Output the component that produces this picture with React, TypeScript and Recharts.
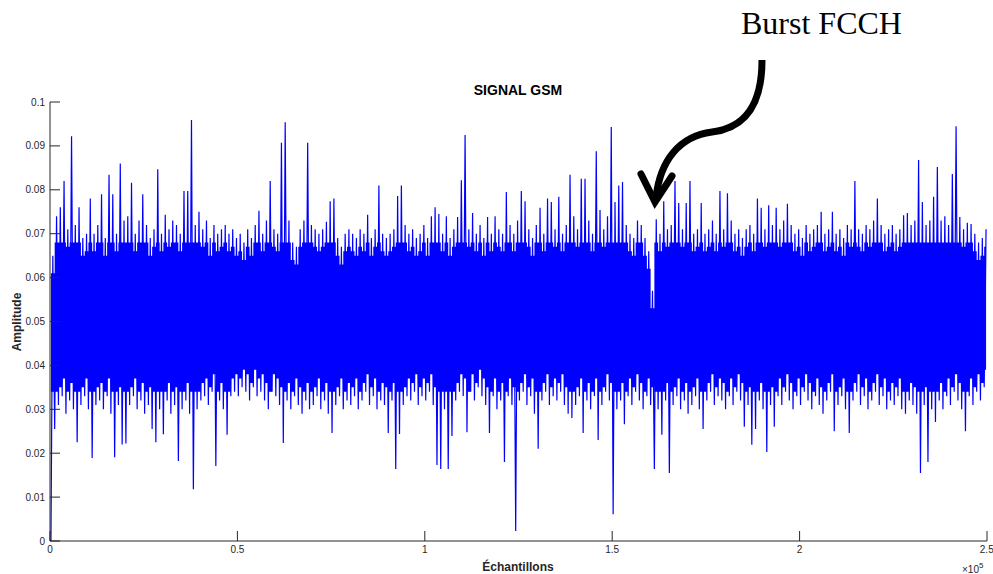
import { ComposedChart, Line, Area, XAxis, YAxis } from "recharts";

// one high / low pair of amplitude per block of 1000 samples
const BIN_SIZE = 1000;

const AMPLITUDE_HIGH = [
  0.065, 0.074, 0.076, 0.082, 0.071, 0.0922, 0.072, 0.076, 0.069, 0.07,
  0.078, 0.07, 0.072, 0.079, 0.069, 0.0834, 0.079, 0.07, 0.086, 0.073,
  0.074, 0.0816, 0.07, 0.073, 0.079, 0.072, 0.069, 0.071, 0.0847, 0.07,
  0.0743, 0.071, 0.073, 0.072, 0.07, 0.0797, 0.0797, 0.0959, 0.072, 0.075,
  0.071, 0.073, 0.069, 0.072, 0.07, 0.071, 0.072, 0.07, 0.071, 0.069,
  0.07, 0.068, 0.071, 0.069, 0.072, 0.0752, 0.07, 0.073, 0.082, 0.071,
  0.07, 0.0907, 0.0954, 0.073, 0.068, 0.067, 0.071, 0.073, 0.0907, 0.072,
  0.071, 0.07, 0.071, 0.0727, 0.0774, 0.078, 0.069, 0.067, 0.07, 0.071,
  0.07, 0.069, 0.071, 0.07, 0.0743, 0.069, 0.071, 0.081, 0.07, 0.069,
  0.07, 0.071, 0.0786, 0.081, 0.072, 0.07, 0.071, 0.069, 0.07, 0.072,
  0.069, 0.074, 0.076, 0.0745, 0.07, 0.074, 0.069, 0.071, 0.0738, 0.0822,
  0.0925, 0.071, 0.0747, 0.07, 0.072, 0.069, 0.0738, 0.07, 0.074, 0.071,
  0.07, 0.0795, 0.072, 0.07, 0.073, 0.0797, 0.0774, 0.071, 0.069, 0.072,
  0.0759, 0.07, 0.078, 0.0772, 0.071, 0.0784, 0.07, 0.072, 0.0834, 0.074,
  0.071, 0.0825, 0.0825, 0.073, 0.07, 0.0888, 0.0754, 0.071, 0.074, 0.0943,
  0.0772, 0.081, 0.0818, 0.072, 0.07, 0.069, 0.073, 0.072, 0.069, 0.066,
  0.057, 0.0733, 0.07, 0.0774, 0.071, 0.072, 0.082, 0.077, 0.071, 0.077,
  0.082, 0.07, 0.071, 0.077, 0.07, 0.071, 0.073, 0.07, 0.0797, 0.071,
  0.0792, 0.073, 0.07, 0.071, 0.069, 0.071, 0.072, 0.07, 0.078, 0.0759,
  0.071, 0.0765, 0.072, 0.0759, 0.071, 0.073, 0.0768, 0.072, 0.07, 0.071,
  0.069, 0.072, 0.07, 0.071, 0.072, 0.075, 0.07, 0.071, 0.075, 0.07,
  0.071, 0.069, 0.072, 0.071, 0.082, 0.071, 0.07, 0.072, 0.071, 0.073,
  0.078, 0.072, 0.07, 0.071, 0.072, 0.07, 0.071, 0.0742, 0.0747, 0.072,
  0.073, 0.0868, 0.0772, 0.072, 0.073, 0.0784, 0.0852, 0.073, 0.074, 0.072,
  0.0836, 0.0945, 0.0738, 0.071, 0.0725, 0.0722, 0.07, 0.068, 0.069, 0.071,
];

const AMPLITUDE_LOW = [
  0.0, 0.0255, 0.031, 0.033, 0.029, 0.032, 0.03, 0.0225, 0.031, 0.033,
  0.03, 0.0189, 0.031, 0.032, 0.03, 0.033, 0.029, 0.0191, 0.031, 0.022,
  0.0222, 0.031, 0.033, 0.03, 0.032, 0.029, 0.031, 0.0255, 0.0225, 0.03,
  0.0243, 0.032, 0.029, 0.031, 0.0182, 0.03, 0.032, 0.029, 0.0118, 0.03,
  0.032, 0.033, 0.031, 0.034, 0.0171, 0.032, 0.03, 0.0242, 0.033, 0.034,
  0.033, 0.035, 0.034, 0.032, 0.035, 0.033, 0.034, 0.032, 0.03, 0.034,
  0.033, 0.031, 0.0223, 0.032, 0.03, 0.033, 0.031, 0.029, 0.032, 0.03,
  0.031, 0.033, 0.03, 0.032, 0.029, 0.0246, 0.031, 0.033, 0.03, 0.032,
  0.031, 0.033, 0.03, 0.032, 0.034, 0.031, 0.033, 0.03, 0.032, 0.031,
  0.0246, 0.032, 0.0164, 0.0244, 0.031, 0.033, 0.032, 0.034, 0.031, 0.033,
  0.032, 0.034, 0.031, 0.0173, 0.0164, 0.03, 0.0164, 0.0239, 0.032, 0.034,
  0.033, 0.0248, 0.034, 0.032, 0.035, 0.033, 0.031, 0.0246, 0.033, 0.03,
  0.032, 0.018, 0.033, 0.031, 0.0023, 0.032, 0.034, 0.031, 0.033, 0.029,
  0.021, 0.032, 0.034, 0.031, 0.033, 0.032, 0.034, 0.031, 0.029, 0.028,
  0.031, 0.033, 0.0246, 0.032, 0.03, 0.033, 0.023, 0.031, 0.034, 0.032,
  0.0061, 0.03, 0.032, 0.0266, 0.033, 0.031, 0.034, 0.032, 0.03, 0.033,
  0.031, 0.0164, 0.03, 0.0242, 0.032, 0.0155, 0.031, 0.033, 0.03, 0.032,
  0.029, 0.031, 0.033, 0.03, 0.0255, 0.032, 0.034, 0.031, 0.033, 0.032,
  0.03, 0.033, 0.031, 0.034, 0.032, 0.026, 0.031, 0.0219, 0.0255, 0.032,
  0.03, 0.0203, 0.031, 0.026, 0.033, 0.031, 0.034, 0.032, 0.03, 0.033,
  0.031, 0.034, 0.032, 0.03, 0.033, 0.031, 0.029, 0.032, 0.034, 0.025,
  0.031, 0.033, 0.03, 0.0246, 0.032, 0.034, 0.031, 0.033, 0.03, 0.032,
  0.034, 0.031, 0.033, 0.03, 0.032, 0.031, 0.033, 0.03, 0.029, 0.032,
  0.031, 0.029, 0.0155, 0.031, 0.018, 0.03, 0.0271, 0.032, 0.03, 0.033,
  0.031, 0.034, 0.032, 0.03, 0.025, 0.033, 0.031, 0.034, 0.032, 0.035,
];

// the dense part of the band stops a little short of each block's extremes;
// isolated spikes and dips are left as bare needles
const NEEDLE = 0.004;
const SPIKE_LIMIT_HIGH = 0.072;
const SPIKE_LIMIT_LOW = 0.03;

const X_TICKS = [0, 50000, 100000, 150000, 200000, 250000];
const Y_TICKS = [0, 0.01, 0.02, 0.03, 0.04, 0.05, 0.06, 0.07, 0.08, 0.09, 0.1];

const AXIS_COLOR = "#262626";
const FONT = "'Liberation Sans', Arial, Helvetica, sans-serif";

const chartData = AMPLITUDE_HIGH.flatMap((high, i) => {
  const low = AMPLITUDE_LOW[i];
  const core = [
    Math.max(low, SPIKE_LIMIT_LOW) + NEEDLE,
    Math.min(high, SPIKE_LIMIT_HIGH) - NEEDLE,
  ];
  return [
    { x: i * BIN_SIZE + BIN_SIZE / 4, amp: low, core },
    { x: i * BIN_SIZE + (3 * BIN_SIZE) / 4, amp: high, core },
  ];
});

const tickStyle = { fontSize: 10, fill: AXIS_COLOR, fontFamily: FONT };

export default function App() {
  return (
    <div style={{ position: "absolute", left: 0, top: 0, width: 993, height: 574, background: "#fff" }}>
      <ComposedChart
        width={993}
        height={574}
        data={chartData}
        margin={{ top: 102, right: 6, bottom: 0, left: 0 }}
      >
        <XAxis
          dataKey="x"
          type="number"
          domain={[0, 250000]}
          ticks={X_TICKS}
          tickFormatter={(v: number) => String(v / 100000)}
          height={33}
          stroke={AXIS_COLOR}
          tickSize={-10}
          tickMargin={15}
          tick={tickStyle}
          allowDataOverflow
        />
        <XAxis
          xAxisId="top"
          orientation="top"
          type="number"
          domain={[0, 250000]}
          ticks={X_TICKS}
          tickFormatter={() => ""}
          height={0}
          stroke={AXIS_COLOR}
          tickSize={-10}
        />
        <YAxis
          type="number"
          domain={[0, 0.1]}
          ticks={Y_TICKS}
          tickFormatter={(v: number) => String(v)}
          width={50}
          stroke={AXIS_COLOR}
          tickSize={-10}
          tickMargin={15}
          tick={tickStyle}
          allowDataOverflow
        />
        <YAxis
          yAxisId="right"
          orientation="right"
          type="number"
          domain={[0, 0.1]}
          ticks={Y_TICKS}
          tickFormatter={() => ""}
          width={0}
          stroke={AXIS_COLOR}
          tickSize={-10}
        />
        <Area
          type="stepAfter"
          dataKey="core"
          stroke="none"
          fill="#0000ff"
          fillOpacity={1}
          isAnimationActive={false}
        />
        <Line
          type="linear"
          dataKey="amp"
          stroke="#0000ff"
          strokeWidth={1.2}
          dot={false}
          activeDot={false}
          isAnimationActive={false}
        />
      </ComposedChart>

      <svg
        width={993}
        height={574}
        style={{ position: "absolute", left: 0, top: 0, pointerEvents: "none" }}
      >
        <text
          x={518}
          y={95}
          textAnchor="middle"
          fontFamily={FONT}
          fontWeight="bold"
          fontSize={14}
          fill="#000"
        >
          SIGNAL GSM
        </text>
        <text
          x={518}
          y={571}
          textAnchor="middle"
          fontFamily={FONT}
          fontWeight="bold"
          fontSize={12}
          fill={AXIS_COLOR}
        >
          Échantillons
        </text>
        <text
          transform="translate(20.5, 322) rotate(-90)"
          textAnchor="middle"
          fontFamily={FONT}
          fontWeight="bold"
          fontSize={12}
          fill={AXIS_COLOR}
        >
          Amplitude
        </text>
        <text x={962} y={573} fontFamily={FONT} fontSize={10} fill={AXIS_COLOR}>
          ×10
          <tspan dy={-5} fontSize={8}>
            5
          </tspan>
        </text>

        <text
          x={741}
          y={34}
          fontFamily="'Liberation Serif', 'Times New Roman', serif"
          fontSize={32}
          fill="#000"
        >
          Burst FCCH
        </text>
        <path
          d="M 762 60 C 762 105, 745 128, 712 132 C 680 136, 660 160, 656 198"
          fill="none"
          stroke="#000"
          strokeWidth={7}
        />
        <path
          d="M 641 174 L 655 202 L 672 176"
          fill="none"
          stroke="#000"
          strokeWidth={7}
          strokeLinecap="round"
          strokeLinejoin="miter"
        />
      </svg>
    </div>
  );
}
